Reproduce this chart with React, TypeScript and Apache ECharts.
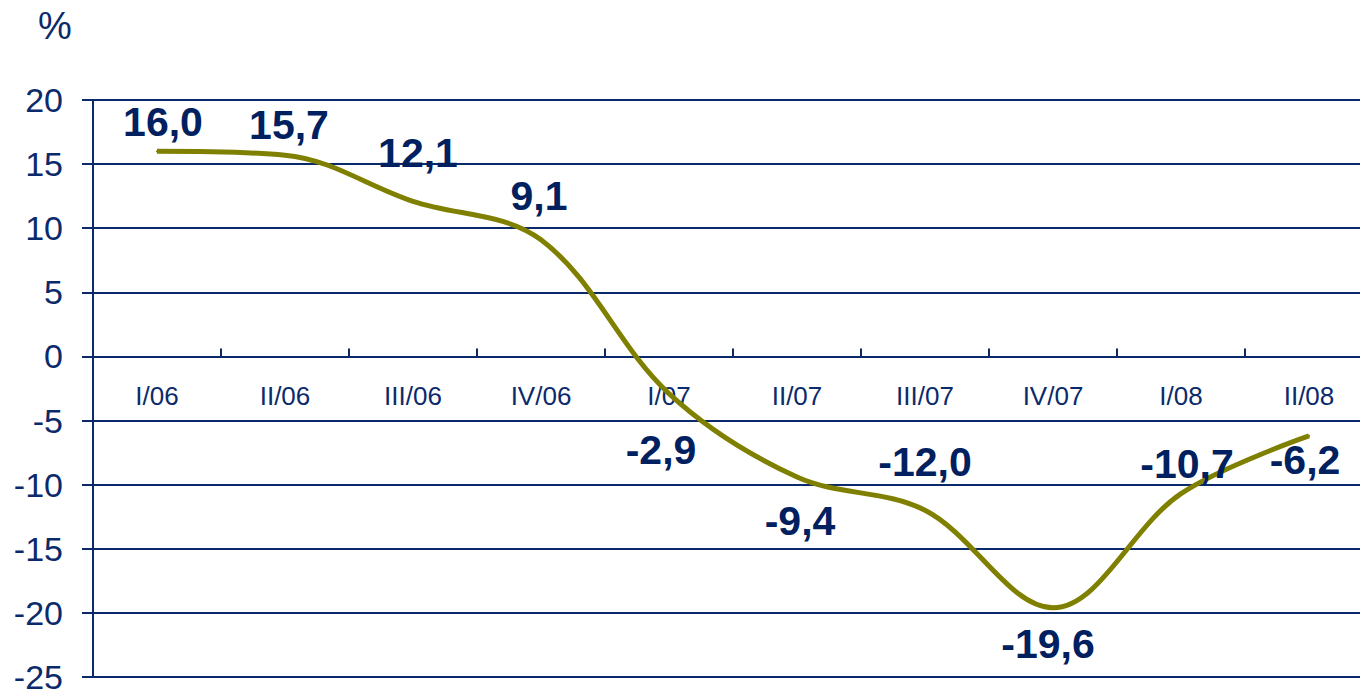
import React, { useEffect, useRef } from "react";
import * as echarts from "echarts";

const categories = ["I/06", "II/06", "III/06", "IV/06", "I/07", "II/07", "III/07", "IV/07", "I/08", "II/08"];
const values = [16.0, 15.7, 12.1, 9.1, -2.9, -9.4, -12.0, -19.6, -10.7, -6.2];
const yTicks = { min: -25, max: 20, interval: 5 };

const labelOffsets: [number, number][] = [
  [6, -29], [4, -30], [5, -48], [-2, -44], [-8, 56],
  [3, 44], [0, -48], [-5, 36], [6, -30], [-4, 24],
];

const NAVY = "#0b2a6b";
const LABEL = "#002060";
const FONT = "Liberation Sans, Arial, sans-serif";

const GRID_TOP = 100;
const GRID_H = 577;

export default function App() {
  const ref = useRef<HTMLDivElement>(null);
  useEffect(() => {
    if (!ref.current) return;
    const chart = echarts.init(ref.current, undefined, { renderer: "svg" });
    const zeroOffset = -(GRID_H * (0 - yTicks.min)) / (yTicks.max - yTicks.min);
    chart.setOption({
      animation: false,
      backgroundColor: "#ffffff",
      graphic: [
        {
          type: "text",
          x: 55,
          y: 26,
          style: { text: "%", fontSize: 38, fontFamily: FONT, fill: NAVY, align: "center", verticalAlign: "middle" },
        },
      ],
      grid: { left: 93, top: GRID_TOP, width: 1280, height: GRID_H, containLabel: false, outerBoundsMode: "none" },
      xAxis: {
        type: "category",
        data: categories,
        boundaryGap: true,
        position: "bottom",
        offset: zeroOffset,
        axisLine: { show: true, onZero: false, lineStyle: { color: NAVY, width: 2 } },
        axisTick: { show: true, inside: true, length: 8, lineStyle: { color: NAVY, width: 2 } },
        axisLabel: { color: NAVY, fontSize: 26, fontFamily: FONT, margin: 27, interval: 0 },
        splitLine: { show: false },
      },
      yAxis: {
        type: "value",
        min: yTicks.min,
        max: yTicks.max,
        interval: yTicks.interval,
        axisLine: { show: true, lineStyle: { color: NAVY, width: 2 } },
        axisTick: { show: true, inside: false, length: 11, lineStyle: { color: NAVY, width: 2 } },
        axisLabel: { color: NAVY, fontSize: 34, lineHeight: 28, fontFamily: FONT, margin: 30 },
        splitLine: { show: true, lineStyle: { color: NAVY, width: 2 } },
      },
      series: [
        {
          type: "line",
          data: values.map((v, i) => ({
            value: v,
            label: { offset: labelOffsets[i] },
          })),
          smooth: 0.35,
          symbol: "circle",
          symbolSize: 2,
          showSymbol: true,
          itemStyle: { color: "#808000" },
          lineStyle: { color: "#808000", width: 5 },
          label: {
            show: true,
            position: "inside",
            color: LABEL,
            fontSize: 41,
            fontWeight: "bold",
            fontFamily: FONT,
            align: "center",
            verticalAlign: "middle",
            formatter: (p: any) => Number(p.value).toFixed(1).replace(".", ","),
          },
          emphasis: { disabled: true },
        },
      ],
    });
    return () => chart.dispose();
  }, []);
  return (
    <div
      ref={ref}
      style={{ position: "fixed", left: 0, top: 0, width: 1360, height: 692 }}
    />
  );
}
